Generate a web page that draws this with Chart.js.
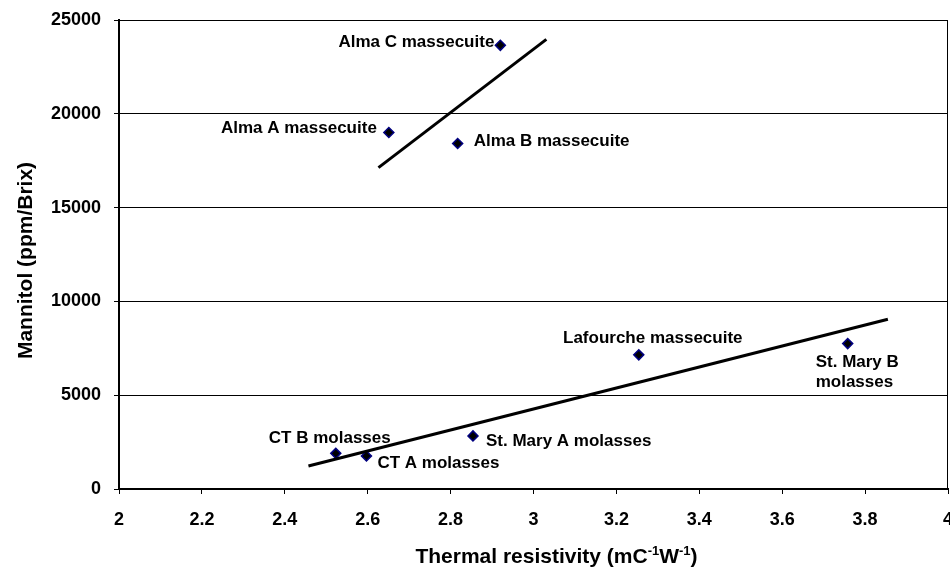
<!DOCTYPE html>
<html>
<head>
<meta charset="utf-8">
<script src="https://cdn.jsdelivr.net/npm/chart.js@4.4.1/dist/chart.umd.min.js"></script>
<style>
  html, body { margin: 0; padding: 0; background: #ffffff; }
  #wrap { width: 950px; height: 568px; }
</style>
</head>
<body>
<div id="wrap"><canvas id="c" width="950" height="568"></canvas></div>
<script>
// ---- data ----
const sampleNames = ["Alma C massecuite", "Alma A massecuite", "Alma B massecuite", "Lafourche massecuite",
                     "St. Mary B\nmolasses", "CT B molasses", "CT A molasses", "St. Mary A molasses"];
const thermalResistivity = [2.92, 2.651, 2.817, 3.254, 3.758, 2.523, 2.597, 2.854];
const mannitol = [23650, 19000, 18420, 7150, 7750, 1900, 1760, 2830];

const upperTrendX = [2.626, 3.031];
const upperTrendY = [17130, 23970];
const lowerTrendX = [2.457, 3.855];
const lowerTrendY = [1226, 9046];

const xTickValues = [2, 2.2, 2.4, 2.6, 2.8, 3, 3.2, 3.4, 3.6, 3.8, 4];
const xTickLabels = ["2", "2.2", "2.4", "2.6", "2.8", "3", "3.2", "3.4", "3.6", "3.8", "4"];
const yTickValues = [0, 5000, 10000, 15000, 20000, 25000];
const yTickLabels = ["0", "5000", "10000", "15000", "20000", "25000"];

const xTitleParts = [["Thermal resistivity (mC", false], ["-1", true], ["W", false], ["-1", true], [")", false]];
const yTitle = "Mannitol (ppm/Brix)";

// ---- label placement (style) ----
const labelPlacement = [
  { dx: -6, dy: -3, align: "right" },
  { dx: -12, dy: -4, align: "right" },
  { dx: 16, dy: -2, align: "left" },
  { dx: 14, dy: -17, align: "center" },
  { dx: -32, dy: 19, align: "left" },
  { dx: -6, dy: -15, align: "center" },
  { dx: 11, dy: 7, align: "left" },
  { dx: 13, dy: 5, align: "left" }
];

const FONT = "'Liberation Sans', Arial, Helvetica, sans-serif";

const pts = thermalResistivity.map((x, i) => ({ x: x, y: mannitol[i] }));
const upper = upperTrendX.map((x, i) => ({ x: x, y: upperTrendY[i] }));
const lower = lowerTrendX.map((x, i) => ({ x: x, y: lowerTrendY[i] }));

const decorPlugin = {
  id: "decor",
  afterDatasetsDraw(chart) {
    const ctx = chart.ctx;
    const area = chart.chartArea;
    // right border of plot area
    ctx.save();
    ctx.strokeStyle = "#000000";
    ctx.lineWidth = 1;
    ctx.beginPath();
    ctx.moveTo(area.right - 0.5, area.top);
    ctx.lineTo(area.right - 0.5, area.bottom);
    ctx.stroke();
    ctx.restore();

    // point labels
    const meta = chart.getDatasetMeta(2);
    ctx.save();
    ctx.fillStyle = "#000000";
    ctx.font = "bold 17px " + FONT;
    ctx.textBaseline = "middle";
    meta.data.forEach((el, i) => {
      const p = labelPlacement[i];
      ctx.textAlign = p.align;
      const lines = sampleNames[i].split("\n");
      lines.forEach((ln, k) => {
        ctx.fillText(ln, el.x + p.dx, el.y + p.dy + k * 20);
      });
    });
    ctx.restore();
  },
  afterDraw(chart) {
    const ctx = chart.ctx;
    const area = chart.chartArea;
    ctx.save();
    ctx.fillStyle = "#000000";
    // x title with superscripts
    const big = "bold 21px " + FONT;
    const small = "bold 13px " + FONT;
    let total = 0;
    xTitleParts.forEach(([t, sup]) => {
      ctx.font = sup ? small : big;
      total += ctx.measureText(t).width;
    });
    let x = (area.left + area.right) / 2 + 23 - total / 2;
    const baseY = 563;
    ctx.textBaseline = "alphabetic";
    ctx.textAlign = "left";
    xTitleParts.forEach(([t, sup]) => {
      ctx.font = sup ? small : big;
      ctx.fillText(t, x, sup ? baseY - 8 : baseY);
      x += ctx.measureText(t).width;
    });
    // y title
    ctx.font = big;
    ctx.translate(32, (area.top + area.bottom) / 2 + 6);
    ctx.rotate(-Math.PI / 2);
    ctx.textAlign = "center";
    ctx.textBaseline = "alphabetic";
    ctx.fillText(yTitle, 0, 0);
    ctx.restore();
  }
};

new Chart(document.getElementById("c"), {
  type: "scatter",
  data: {
    datasets: [
      {
        label: "trend upper",
        data: upper,
        showLine: true,
        borderColor: "#000000",
        borderWidth: 3,
        pointRadius: 0,
        fill: false
      },
      {
        label: "trend lower",
        data: lower,
        showLine: true,
        borderColor: "#000000",
        borderWidth: 3,
        pointRadius: 0,
        fill: false
      },
      {
        label: "samples",
        data: pts,
        pointStyle: "rectRot",
        pointRadius: 5,
        pointHoverRadius: 5,
        backgroundColor: "#000000",
        borderColor: "#000080",
        borderWidth: 1.5
      }
    ]
  },
  options: {
    responsive: false,
    animation: false,
    layout: { autoPadding: false, padding: { top: 20, right: 2, left: 0, bottom: 0 } },
    plugins: { legend: { display: false }, tooltip: { enabled: false } },
    scales: {
      x: {
        type: "linear",
        min: 2,
        max: 4,
        afterBuildTicks(scale) { scale.ticks = xTickValues.map(v => ({ value: v })); },
        afterFit(scale) { scale.height = 79; scale.paddingLeft = 0; scale.paddingRight = 0; },
        ticks: {
          color: "#000000",
          font: { family: FONT, size: 18, weight: "bold" },
          padding: 15,
          maxRotation: 0,
          autoSkip: false,
          callback: (v, i) => xTickLabels[i]
        },
        grid: {
          drawOnChartArea: false,
          drawTicks: true,
          tickLength: 5,
          color: "#000000",
          lineWidth: 1
        },
        border: { display: true, color: "#000000", width: 2 }
      },
      y: {
        type: "linear",
        min: 0,
        max: 25000,
        afterBuildTicks(scale) { scale.ticks = yTickValues.map(v => ({ value: v })); },
        afterFit(scale) { scale.width = 119; scale.paddingTop = 0; scale.paddingBottom = 0; },
        ticks: {
          color: "#000000",
          font: { family: FONT, size: 18, weight: "bold" },
          padding: 13,
          autoSkip: false,
          callback: (v, i) => yTickLabels[i]
        },
        grid: {
          drawOnChartArea: true,
          drawTicks: true,
          tickLength: 5,
          color: "#000000",
          lineWidth: 1
        },
        border: { display: true, color: "#000000", width: 2 }
      }
    }
  },
  plugins: [decorPlugin]
});
</script>
</body>
</html>
